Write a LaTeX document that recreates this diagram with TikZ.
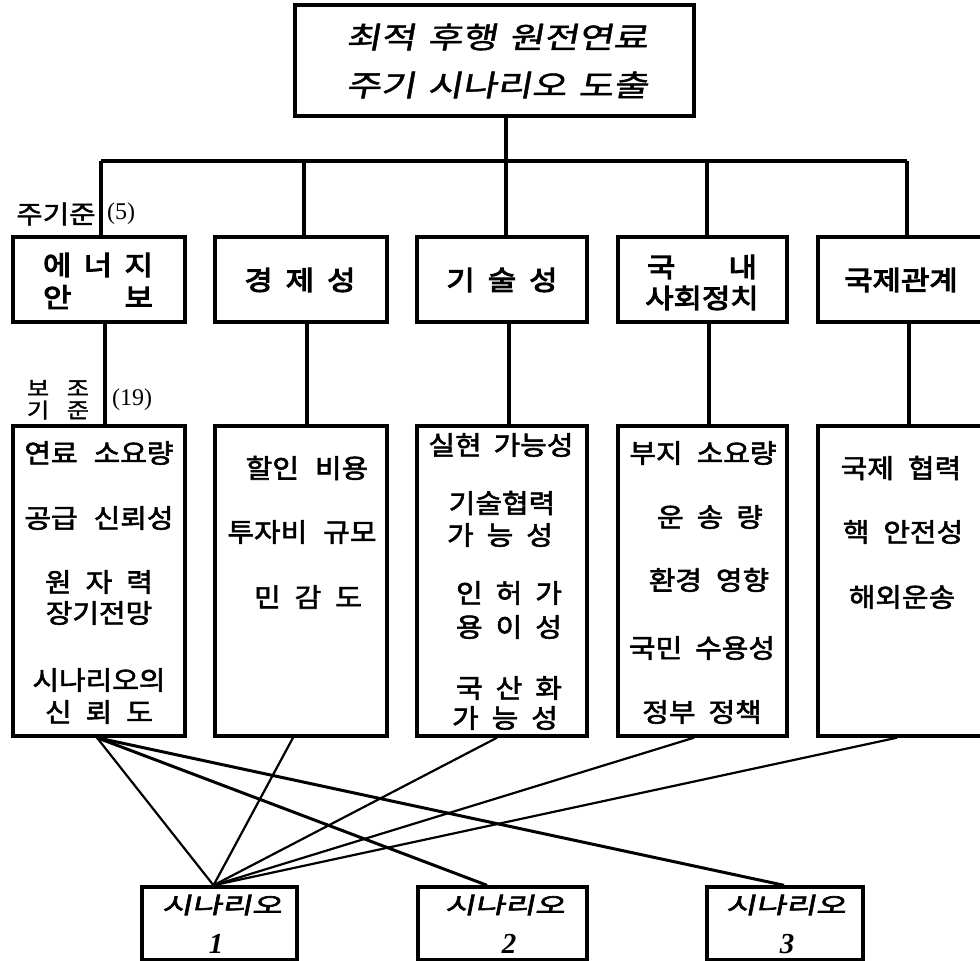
\documentclass[tikz,border=0pt]{standalone}
\usepackage{fontspec}
\setmainfont{Liberation Serif}
\newfontfamily\krT[FakeSlant=0.18,FakeStretch=1.28,FakeBold=1.5]{Noto Sans CJK KR}
\newfontfamily\krU[FakeBold=4,FakeStretch=1.15]{Noto Sans CJK KR}
\newfontfamily\krL[FakeBold=2.2,FakeStretch=1.1]{Noto Sans CJK KR}
\newfontfamily\krS[FakeSlant=0.2,FakeBold=3,FakeStretch=1.45]{Noto Sans CJK KR}
\newfontfamily\krN[FakeBold=1.8,FakeStretch=1.15]{Noto Sans CJK KR}
\usetikzlibrary{calc}
\newcommand\gp[1]{\hspace{#1pt}}
\begin{document}
\begin{tikzpicture}[x=1pt,y=-1pt,
 box/.style={draw, line width=3.4pt, inner sep=0pt, rectangle},
 conn/.style={line width=3.2pt},
 link/.style={line width=2.2pt},
 linkb/.style={line width=3pt},
 txt/.style={inner sep=0pt, anchor=center},
 tT/.style={txt, font=\krT\fontsize{29.5}{32}\selectfont},
 tU/.style={txt, font=\krU\fontsize{26.8}{30}\selectfont},
 tL/.style={txt, font=\krL\fontsize{26.3}{30}\selectfont},
 tS/.style={txt, font=\krS\fontsize{22.5}{26}\selectfont},
 tD/.style={txt, font=\bfseries\itshape\fontsize{29}{32}\selectfont},
 tN/.style={txt, font=\krN\fontsize{25}{28}\selectfont},
 tM/.style={txt, font=\krN\fontsize{21}{24}\selectfont},
 tP/.style={txt, font=\fontsize{24}{26}\selectfont},
]
\useasboundingbox (0,0) rectangle (980,961);
\clip (0,0) rectangle (980,961);

% boxes
\node[box, minimum width=399pt, minimum height=111pt] (top) at (494.5,60.5) {};
\node[box, minimum width=172pt, minimum height=85pt] (u1) at (99,279.5) {};
\node[box, minimum width=172pt, minimum height=85pt] (u2) at (301,279.5) {};
\node[box, minimum width=170pt, minimum height=85pt] (u3) at (502,279.5) {};
\node[box, minimum width=169pt, minimum height=85pt] (u4) at (702.5,279.5) {};
\node[box, minimum width=167pt, minimum height=85pt] (u5) at (901.5,279.5) {};
\node[box, minimum width=172pt, minimum height=310pt] (l1) at (99,581) {};
\node[box, minimum width=172pt, minimum height=310pt] (l2) at (301,581) {};
\node[box, minimum width=170pt, minimum height=310pt] (l3) at (502,581) {};
\node[box, minimum width=169pt, minimum height=310pt] (l4) at (702.5,581) {};
\node[box, minimum width=167pt, minimum height=310pt] (l5) at (901.5,581) {};
\node[box, minimum width=155pt, minimum height=73pt] (s1) at (219.5,923.5) {};
\node[box, minimum width=169pt, minimum height=73pt] (s2) at (502.5,923.5) {};
\node[box, minimum width=156pt, minimum height=73pt] (s3) at (785,923.5) {};

% tree connectors
\coordinate (busL) at (101,161);
\coordinate (busR) at (907,161);
\draw[conn] (busL) -- (busR);
\draw[conn] ([xshift=11.5pt]top.south) -- ([xshift=11.5pt]top.south |- busL);
\draw[conn] ([xshift=2pt]u1.north) -- ([xshift=2pt]u1.north |- busL);
\draw[conn] ([xshift=3pt]u2.north) -- ([xshift=3pt]u2.north |- busL);
\draw[conn] ([xshift=4pt]u3.north) -- ([xshift=4pt]u3.north |- busL);
\draw[conn] ([xshift=4.5pt]u4.north) -- ([xshift=4.5pt]u4.north |- busL);
\draw[conn] ([xshift=5.5pt]u5.north) -- ([xshift=5.5pt]u5.north |- busL);
\draw[conn] ([xshift=6pt]u1.south) -- ([xshift=6pt]l1.north);
\draw[conn] ([xshift=6pt]u2.south) -- ([xshift=6pt]l2.north);
\draw[conn] ([xshift=7pt]u3.south) -- ([xshift=7pt]l3.north);
\draw[conn] ([xshift=6.5pt]u4.south) -- ([xshift=6.5pt]l4.north);
\draw[conn] ([xshift=7.5pt]u5.south) -- ([xshift=7.5pt]l5.north);

% scenario links
\draw[link] ([xshift=-2pt]l1.south) -- ([xshift=-6pt]s1.north);
\draw[linkb] ([xshift=-2pt]l1.south) -- ([xshift=-15.5pt]s2.north);
\draw[linkb] ([xshift=-2pt]l1.south) -- ([xshift=-1pt]s3.north);
\draw[link] ([xshift=-8pt]l2.south) -- ([xshift=-6pt]s1.north);
\draw[link] ([xshift=-5pt]l3.south) -- ([xshift=-6pt]s1.north);
\draw[link] ([xshift=-8.5pt]l4.south) -- ([xshift=-6pt]s1.north);
\draw[link] ([xshift=-4.5pt]l5.south) -- ([xshift=-6pt]s1.north);

% top text
\node[tT] (ta) at (497,37) {최적\gp{12}후행\gp{12}원전연료};
\node[tT] (tb) at (497,85) {주기\gp{12}시나리오\gp{12}도출};

% upper texts
\node[tU] (u1a) at (98,265) {\makebox[110pt][s]{에\hfill 너\hfill 지}};
\node[tU] (u1b) at (98,297) {\makebox[110pt][s]{안\hfill 보}};
\node[tU] (u2a) at (300,280) {경\gp{13}제\gp{13}성};
\node[tU] (u3a) at (502,280) {기\gp{13}술\gp{13}성};
\node[tU] (u4a) at (702,267) {\makebox[110pt][s]{국\hfill 내}};
\node[tU] (u4b) at (702,298) {사회정치};
\node[tU] (u5a) at (901,280) {국제관계};

% lower texts
\node[tL] (l1a) at (99,453) {연료\gp{16}소요량};
\node[tL] (l1b) at (99,518) {공급\gp{16}신뢰성};
\node[tL] (l1c) at (99,582) {원\gp{14}자\gp{14}력};
\node[tL] (l1d) at (99,613) {장기전망};
\node[tL] (l1e) at (99,680) {시나리오의};
\node[tL] (l1f) at (99,712) {신\gp{14}뢰\gp{14}도};

\node[tL] (l2a) at (307,468) {할인\gp{16}비용};
\node[tL] (l2b) at (302,532) {투자비\gp{16}규모};
\node[tL] (l2c) at (308,597) {민\gp{14}감\gp{14}도};

\node[tL] (l3a) at (501,445) {실현\gp{12}가능성};
\node[tL] (l3b) at (502,503) {기술협력};
\node[tL] (l3c) at (500,535) {가\gp{13}능\gp{13}성};
\node[tL] (l3d) at (509,593) {인\gp{13}허\gp{13}가};
\node[tL] (l3e) at (509,627) {용\gp{13}이\gp{13}성};
\node[tL] (l3f) at (509,688) {국\gp{13}산\gp{13}화};
\node[tL] (l3g) at (505,718) {가\gp{13}능\gp{13}성};

\node[tL] (l4a) at (703,453) {부지\gp{14}소요량};
\node[tL] (l4b) at (710,517) {운\gp{13}송\gp{13}량};
\node[tL] (l4c) at (709,580) {환경\gp{14}영향};
\node[tL] (l4d) at (702,648) {국민\gp{13}수용성};
\node[tL] (l4e) at (702,712) {정부\gp{13}정책};

\node[tL] (l5a) at (901,468) {국제\gp{14}협력};
\node[tL] (l5b) at (903,532) {핵\gp{14}안전성};
\node[tL] (l5c) at (902,597) {해외운송};

% labels
\node[tN] (lab1) at (56,214) {주기준};
\node[tP] (lab1n) at (121,214) {(5)};
\node[tM] (lab2a) at (58,388) {\makebox[62pt][s]{보\hfill 조}};
\node[tM] (lab2b) at (58,410) {\makebox[62pt][s]{기\hfill 준}};
\node[tP] (lab2n) at (132,400) {(19)};

% scenario texts
\node[tS] (s1a) at (222,905) {시나리오};
\node[tD] (s1b) at (216,944) {1};
\node[tS] (s2a) at (505,905) {시나리오};
\node[tD] (s2b) at (509,944) {2};
\node[tS] (s3a) at (786,905) {시나리오};
\node[tD] (s3b) at (787,944) {3};
\end{tikzpicture}
\end{document}
